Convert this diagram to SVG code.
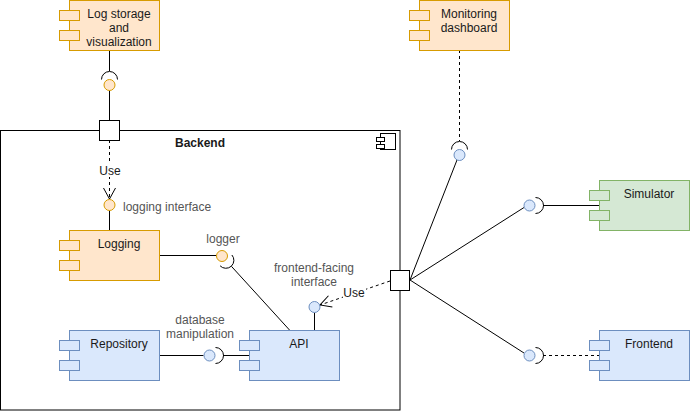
<svg xmlns="http://www.w3.org/2000/svg" width="690" height="411" viewBox="0 0 690 411">
<defs>
<style>
text{font-family:"Liberation Sans",Arial,sans-serif;font-size:12px;fill:#1a1a1a}
.lbl{fill:#555}
.bold{font-weight:bold}
.c{text-anchor:middle}
.ln{stroke:#000;stroke-width:1;fill:none}
.dash{stroke-dasharray:3 3}
.orange{fill:#ffe6cc;stroke:#d79b00;stroke-width:1}
.blue{fill:#dae8fc;stroke:#6c8ebf;stroke-width:1}
.green{fill:#d5e8d4;stroke:#82b366;stroke-width:1}
.port{fill:#fff;stroke:#000;stroke-width:1}
.sock{stroke:#000;stroke-width:1;fill:none}
</style>
<marker id="open" markerWidth="14" markerHeight="14" refX="12" refY="7" orient="auto" markerUnits="userSpaceOnUse">
<path d="M1,1 L12,7 L1,13" fill="none" stroke="#000" stroke-width="1"/>
</marker>
</defs>
<rect width="690" height="411" fill="#fff"/>

<g id="backend">
<rect x="0.5" y="130.5" width="399.5" height="279.5" fill="#fff" stroke="#000"/>
<text x="200" y="147" class="c bold">Backend</text>
<rect x="380.5" y="133.5" width="15" height="16" fill="#fff" stroke="#000"/>
<rect x="376.5" y="137.5" width="8" height="4" fill="#fff" stroke="#000"/>
<rect x="376.5" y="144.5" width="8" height="4" fill="#fff" stroke="#000"/>
</g>

<g id="connectors">
<!-- log storage to port -->
<line class="ln" x1="109.5" y1="50" x2="109.5" y2="71"/>
<line class="ln" x1="109.5" y1="90.5" x2="109.5" y2="120"/>
<!-- port to logging interface (Use) -->
<line class="ln dash" x1="109.5" y1="140" x2="109.5" y2="199" marker-end="url(#open)"/>
<rect x="99" y="164" width="22" height="13" fill="#fff"/>
<text x="110" y="175" class="c">Use</text>
<line class="ln" x1="109.5" y1="210.5" x2="109.5" y2="230"/>
<!-- logging to logger -->
<line class="ln" x1="159" y1="255.5" x2="216.5" y2="255.5"/>
<!-- API to logger socket -->
<line class="ln" x1="231.4" y1="266.3" x2="289.5" y2="330"/>
<!-- API to frontend-facing interface -->
<line class="ln" x1="314.5" y1="312.5" x2="314.5" y2="330"/>
<!-- port to frontend-facing interface (Use) -->
<line class="ln dash" x1="390" y1="281" x2="320" y2="305" marker-end="url(#open)"/>
<rect x="343" y="286" width="23" height="13" fill="#fff"/>
<text x="354" y="297" class="c">Use</text>
<!-- repository to db ball -->
<line class="ln" x1="159" y1="355.5" x2="203.5" y2="355.5"/>
<line class="ln" x1="223" y1="355.5" x2="249" y2="355.5"/>
<!-- right port fan -->
<line class="ln" x1="410" y1="280" x2="457" y2="160"/>
<line class="ln" x1="410" y1="280" x2="524" y2="207.5"/>
<line class="ln" x1="410" y1="280" x2="524" y2="353"/>
<!-- monitoring -->
<line class="ln dash" x1="459.5" y1="50" x2="459.5" y2="141"/>
<!-- simulator -->
<line class="ln" x1="543" y1="205.5" x2="599" y2="205.5"/>
<!-- frontend -->
<line class="ln dash" x1="543" y1="355.5" x2="599" y2="355.5"/>
</g>

<g id="interfaces">
<!-- log storage socket + ball -->
<path class="sock" d="M101.5,79.5 A8,8 0 0 1 117.5,79.5"/>
<circle cx="109.5" cy="85" r="5.5" class="orange"/>
<!-- logging interface ball -->
<circle cx="109.5" cy="205" r="5.5" class="orange"/>
<text x="123" y="211" class="lbl">logging interface</text>
<!-- logger -->
<circle cx="222" cy="256" r="5.5" class="orange"/>
<path class="sock" d="M220.1,265.8 A8,8 0 0 0 231.9,255"/>
<text x="223" y="243" class="c lbl">logger</text>
<!-- frontend-facing -->
<circle cx="314.5" cy="307" r="5.5" class="blue"/>
<text x="314" y="272" class="c lbl">frontend-facing</text>
<text x="314" y="286" class="c lbl">interface</text>
<!-- db -->
<circle cx="209.5" cy="355.5" r="5.5" class="blue"/>
<path class="sock" d="M215.5,347.5 A8,8 0 0 1 215.5,363.5"/>
<text x="200" y="324" class="c lbl">database</text>
<text x="200" y="338" class="c lbl">manipulation</text>
<!-- monitoring -->
<path class="sock" d="M451.5,149.5 A8,8 0 0 1 467.5,149.5"/>
<circle cx="459.5" cy="155" r="5.5" class="blue"/>
<!-- simulator -->
<circle cx="529.5" cy="205.5" r="5.5" class="blue"/>
<path class="sock" d="M535.5,197.5 A8,8 0 0 1 535.5,213.5"/>
<!-- frontend -->
<circle cx="529.5" cy="355.5" r="5.5" class="blue"/>
<path class="sock" d="M535.5,347.5 A8,8 0 0 1 535.5,363.5"/>
</g>

<g id="ports">
<rect x="99.5" y="120.5" width="20" height="20" class="port"/>
<rect x="390.5" y="270.5" width="19" height="20" class="port"/>
</g>

<g id="log-storage">
<rect x="69.5" y="0.5" width="90" height="50" class="orange"/>
<rect x="59.5" y="10.5" width="20" height="10" class="orange"/>
<rect x="59.5" y="30.5" width="20" height="10" class="orange"/>
<text x="119" y="18" class="c">Log storage</text>
<text x="119" y="32" class="c">and</text>
<text x="119" y="46" class="c">visualization</text>
</g>

<g id="monitoring-dashboard">
<rect x="419.5" y="0.5" width="90" height="50" class="orange"/>
<rect x="409.5" y="10.5" width="20" height="10" class="orange"/>
<rect x="409.5" y="30.5" width="20" height="10" class="orange"/>
<text x="469" y="18" class="c">Monitoring</text>
<text x="469" y="32" class="c">dashboard</text>
</g>

<g id="logging">
<rect x="69.5" y="230.5" width="90" height="50" class="orange"/>
<rect x="59.5" y="240.5" width="20" height="10" class="orange"/>
<rect x="59.5" y="260.5" width="20" height="10" class="orange"/>
<text x="119" y="248" class="c">Logging</text>
</g>

<g id="repository">
<rect x="69.5" y="330.5" width="90" height="50" class="blue"/>
<rect x="59.5" y="340.5" width="20" height="10" class="blue"/>
<rect x="59.5" y="360.5" width="20" height="10" class="blue"/>
<text x="119" y="348" class="c">Repository</text>
</g>

<g id="api">
<rect x="249.5" y="330.5" width="90" height="50" class="blue"/>
<rect x="239.5" y="340.5" width="20" height="10" class="blue"/>
<rect x="239.5" y="360.5" width="20" height="10" class="blue"/>
<text x="299" y="348" class="c">API</text>
</g>

<g id="simulator">
<rect x="599.5" y="180.5" width="90" height="50" class="green"/>
<rect x="589.5" y="190.5" width="20" height="10" class="green"/>
<rect x="589.5" y="210.5" width="20" height="10" class="green"/>
<text x="649" y="198" class="c">Simulator</text>
</g>

<g id="frontend">
<rect x="599.5" y="330.5" width="90" height="50" class="blue"/>
<rect x="589.5" y="340.5" width="20" height="10" class="blue"/>
<rect x="589.5" y="360.5" width="20" height="10" class="blue"/>
<text x="649" y="348" class="c">Frontend</text>
</g>
</svg>
